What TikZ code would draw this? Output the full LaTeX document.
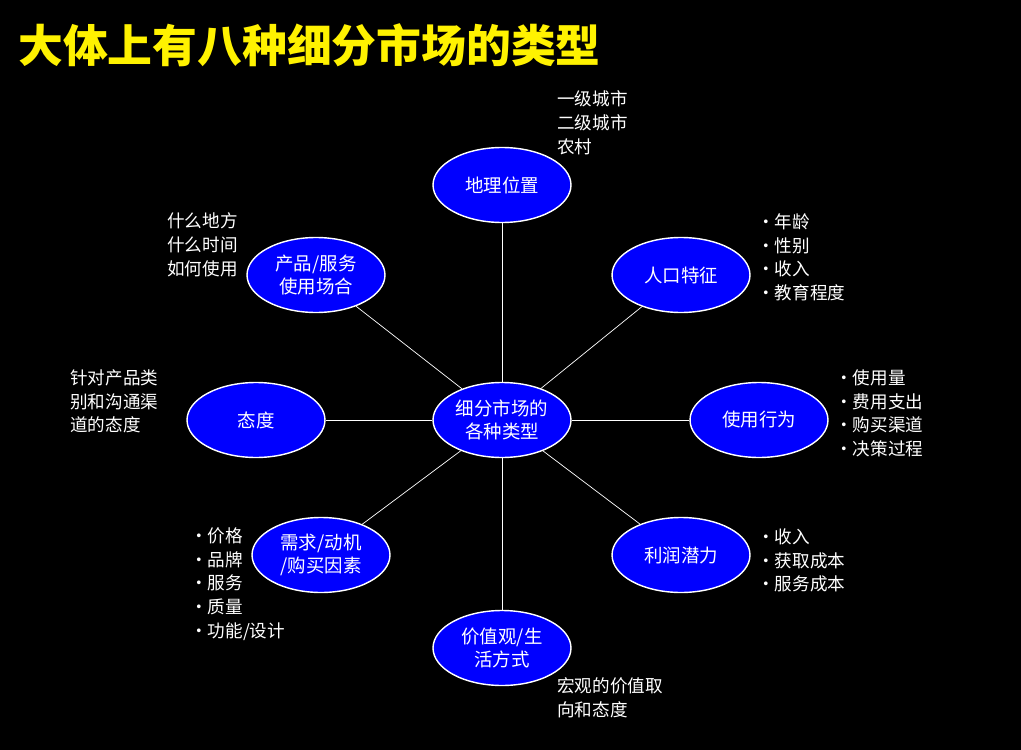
\documentclass[tikz,border=0pt]{standalone}
\usepackage{fontspec}
\setmainfont{Noto Sans CJK SC}
\usetikzlibrary{shapes.geometric}
\tikzset{
	seg/.style={ellipse, draw=white, thick, fill=blue, text=white, minimum width=2.76cm, minimum height=1.5cm, align=center, inner sep=0pt, font=\fontsize{10.5}{13}\selectfont},
	note/.style={text=white, align=left, anchor=north west, inner sep=0pt, font=\fontsize{10}{13.6}\selectfont},
	spoke/.style={white, thin}
}
\begin{document}
\begin{tikzpicture}[x=0.02cm,y=-0.02cm]
		\fill[black] (0,0) rectangle (1021,750);
		\node[anchor=west, text=yellow, font=\fontsize{25.5}{30}\selectfont\bfseries] (title) at (12,45) {大体上有八种细分市场的类型};
		
		\node[seg] (c) at (502,420) {细分市场的\\各种类型};
		\node[seg] (geo) at (502,185) {地理位置};
		\node[seg] (demo) at (681,275) {人口特征};
		\node[seg] (use) at (759,420) {使用行为};
		\node[seg] (profit) at (681,555) {利润潜力};
		\node[seg] (value) at (502,648) {价值观/生\\活方式};
		\node[seg] (need) at (321,555) {需求/动机\\/购买因素};
		\node[seg] (att) at (256,420) {态度};
		\node[seg] (occ) at (316,275) {产品/服务\\使用场合};
		
		\foreach \n in {geo,demo,use,profit,value,need,att,occ}{
			\draw[spoke] (c) -- (\n);
		}
		
		\node[note] (ngeo) at (557,90) {一级城市\\二级城市\\农村};
		\node[note] (ndemo) at (757,213) {•年龄\\•性别\\•收入\\•教育程度};
		\node[note] (nuse) at (835,369) {•使用量\\•费用支出\\•购买渠道\\•决策过程};
		\node[note] (nprofit) at (757,528) {•收入\\•获取成本\\•服务成本};
		\node[note] (nvalue) at (557,677) {宏观的价值取\\向和态度};
		\node[note] (nneed) at (190,527) {•价格\\•品牌\\•服务\\•质量\\•功能/设计};
		\node[note] (natt) at (70,369) {针对产品类\\别和沟通渠\\道的态度};
		\node[note] (nocc) at (167,212) {什么地方\\什么时间\\如何使用};
\end{tikzpicture}
\end{document}
